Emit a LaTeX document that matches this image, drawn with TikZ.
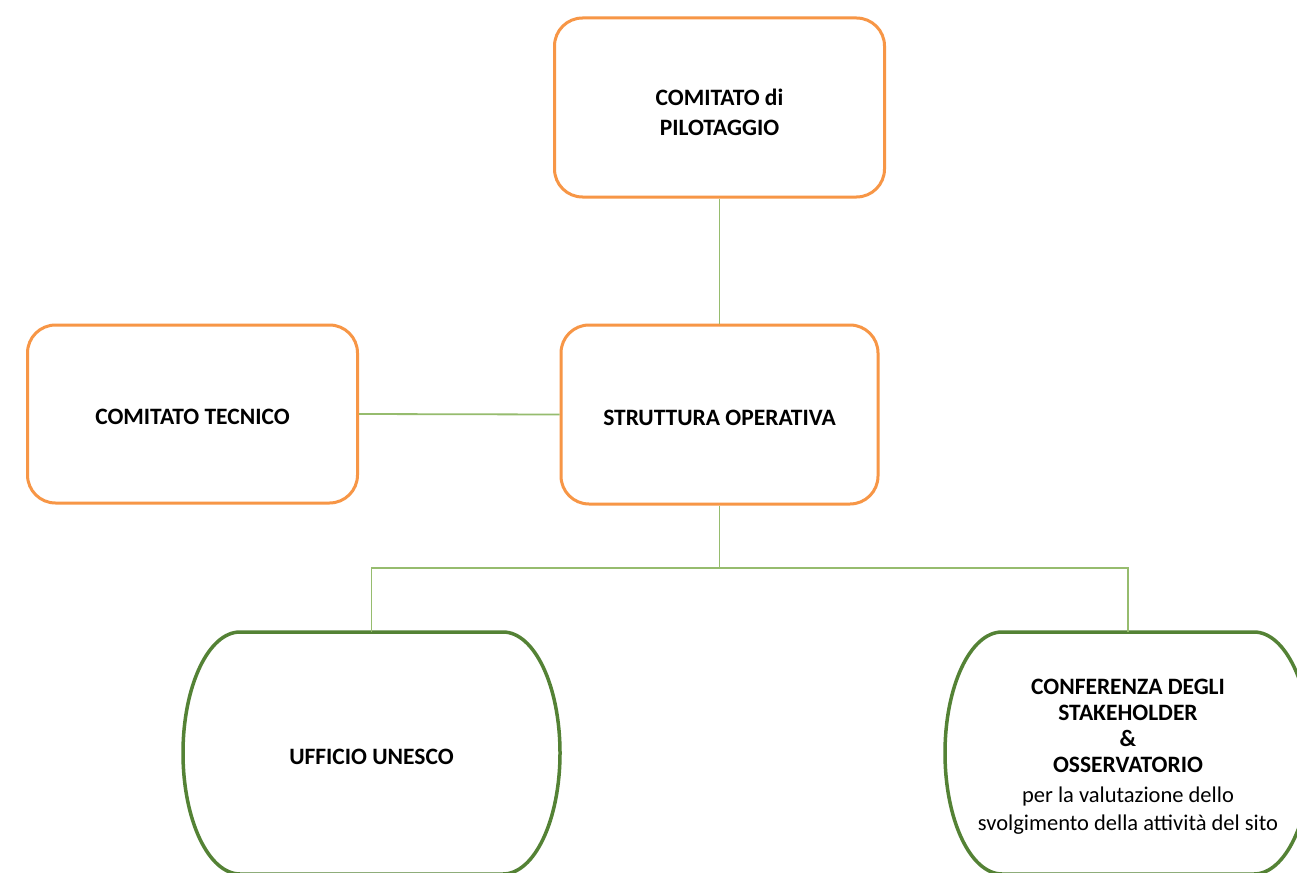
\documentclass[tikz,border=0pt]{standalone}
\usepackage{fontspec}
\setmainfont{Carlito}
\definecolor{org}{RGB}{247,150,70}
\definecolor{lgreen}{RGB}{150,188,110}
\definecolor{dgreen}{RGB}{84,130,53}
\newcommand\BLine[1]{{\fontsize{23.5}{26}\selectfont\bfseries #1}}
\begin{document}
\begin{tikzpicture}[x=1pt,y=-1pt,
  font=\fontsize{22.5}{26}\selectfont,
  obox/.style={draw=org, line width=3pt, rounded corners=28pt, align=center,
    fill=white, inner sep=0pt},
  bt/.style={font=\fontsize{23.5}{26}\selectfont\bfseries},
  gshape/.style={draw=dgreen, line width=3.5pt, fill=white},
  conn/.style={draw=lgreen, line width=1.8pt},
  txt/.style={align=center, inner sep=0pt}]
\useasboundingbox (0,0) rectangle (1297,872);
\fill[white] (0,0) rectangle (1297,872);
\clip (0,0) rectangle (1297,872);

% orange boxes
\node[obox, minimum width=330pt, minimum height=179pt] (pil) at (719.5,107.5) {};
\node[txt, font=\fontsize{23.5}{30}\selectfont\bfseries] (piltxt) at (719.5,112) {COMITATO di\\PILOTAGGIO};
\node[obox, minimum width=330pt, minimum height=178pt] (tec) at (192.5,414) {};
\node[txt, bt] (tectxt) at (192.5,417) {COMITATO TECNICO};
\node[obox, minimum width=317pt, minimum height=179pt] (ope) at (719.5,414.5) {};
\node[txt, bt] (opetxt) at (719.5,418) {STRUTTURA OPERATIVA};

% green shapes
\draw[gshape] (240,632) -- (503,632)
  .. controls (534.5,632) and (560,686.2) .. (560,753)
  .. controls (560,819.8) and (534.5,874) .. (503,874)
  -- (240,874)
  .. controls (208.5,874) and (183,819.8) .. (183,753)
  .. controls (183,686.2) and (208.5,632) .. (240,632) -- cycle;
\coordinate (uT) at (371.5,632);
\draw[gshape] (1002,632) -- (1254,632)
  .. controls (1285.5,632) and (1311,686.2) .. (1311,753)
  .. controls (1311,819.8) and (1285.5,874) .. (1254,874)
  -- (1002,874)
  .. controls (970.5,874) and (945,819.8) .. (945,753)
  .. controls (945,686.2) and (970.5,632) .. (1002,632) -- cycle;
\coordinate (cT) at (1128,632);

\node[txt, bt] (uff) at (371.5,757) {UFFICIO UNESCO};
\node[txt] (conf) at (1128,757) {\BLine{CONFERENZA DEGLI}\\\BLine{STAKEHOLDER}\\\BLine{\&}\\\BLine{OSSERVATORIO}\\[4pt]per la valutazione dello\\[2pt]svolgimento della attività del sito};

% connectors
\coordinate (bus) at (0,568);
\draw[conn] (pil.south) -- (ope.north);
\draw[conn] (tec.east) -- (ope.west);
\draw[conn] (ope.south) -- (ope.south |- bus);
\draw[conn] (uT) -- (uT |- bus) -- (cT |- bus) -- (cT);
\end{tikzpicture}
\end{document}
